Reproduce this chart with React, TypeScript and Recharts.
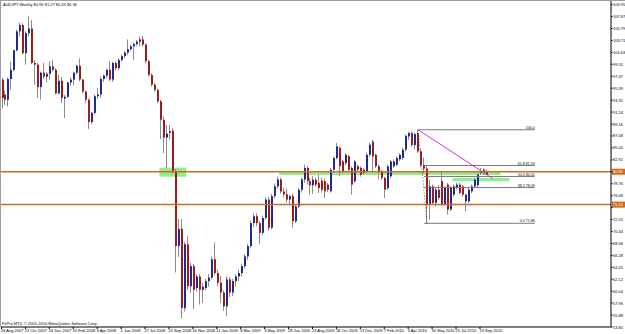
import React from "react";
import { ComposedChart, Bar, XAxis, YAxis, ReferenceLine, ReferenceArea } from "recharts";

// AUDJPY weekly, one entry per week starting 26 Aug 2007
const opens = [
  96.9, 94.3, 93.4, 97.0, 98.6, 102.0, 105.3, 106.4, 101.5, 105.0, 105.8, 99.8, 99.5, 95.6, 98.1, 97.4, 97.9, 99.2, 98.6, 94.5,
  96.7, 93.6, 93.9, 96.4, 96.9, 98.1, 99.3, 96.9, 94.8, 93.4, 89.5, 91.1, 94.0, 94.3, 97.0, 97.6, 98.6, 96.9, 99.8, 98.9,
  100.3, 101.0, 101.6, 102.2, 102.7, 103.1, 103.5, 103.9, 103.0, 100.1, 97.7, 96.0, 95.1, 93.1, 89.9, 86.8, 87.9, 88.0, 81.0, 67.9,
  70.9, 57.1, 68.2, 60.9, 64.4, 60.6, 62.6, 60.3, 60.6, 61.8, 62.4, 65.6, 63.2, 61.5, 59.8, 57.4, 62.1, 59.8, 61.8, 62.6,
  63.2, 64.4, 66.1, 67.9, 71.9, 73.1, 71.9, 70.2, 72.8, 76.0, 71.1, 76.6, 78.3, 79.5, 77.4, 76.9, 76.0, 76.6, 72.2, 74.8,
  77.7, 79.5, 81.5, 79.2, 78.5, 79.47, 78.9, 79.3, 79.2, 78.6, 77.44, 81.2, 83.24, 85.0, 82.65, 82.37, 83.53, 81.5, 79.18, 81.8,
  81.5, 81.2, 80.9, 83.8, 86.13, 83.8, 81.8, 80.9, 79.76, 78.0, 80.05, 81.8, 82.08, 83.0, 83.24, 84.7, 87.0, 87.58, 85.5, 87.6,
  84.4, 82.0, 81.4, 75.12, 78.3, 75.41, 77.73, 79.2, 75.12, 78.6, 74.25, 76.86, 78.02, 78.6, 78.3, 75.7, 75.7, 77.44, 78.3, 78.5,
  80.62, 81.2, 80.96,
];
const highs = [
  97.2, 95.0, 97.3, 100.0, 102.1, 105.6, 106.8, 106.7, 105.3, 108.0, 107.3, 100.3, 99.8, 98.3, 99.8, 98.2, 100.1, 100.3, 98.9, 97.7,
  97.4, 94.2, 96.5, 97.3, 98.3, 99.5, 100.6, 97.0, 95.0, 93.6, 91.3, 94.3, 95.4, 97.4, 97.8, 98.8, 100.1, 100.0, 100.1, 100.6,
  101.3, 101.9, 103.9, 103.0, 103.4, 103.8, 104.4, 104.5, 103.2, 100.3, 98.0, 96.3, 95.3, 93.4, 90.5, 89.0, 89.0, 88.4, 81.3, 72.6,
  72.6, 68.6, 69.6, 65.0, 64.8, 63.0, 63.0, 61.5, 62.2, 63.0, 66.1, 68.5, 63.8, 62.65, 60.2, 62.65, 62.5, 62.2, 63.0, 63.8,
  64.8, 66.5, 68.3, 72.3, 73.6, 73.6, 72.3, 73.2, 76.4, 76.5, 77.0, 78.8, 80.0, 79.8, 78.0, 77.9, 76.8, 77.0, 75.2, 78.0,
  79.8, 82.1, 81.8, 79.76, 80.05, 79.8, 80.34, 79.8, 79.7, 78.9, 81.5, 83.5, 85.84, 85.3, 82.9, 84.1, 83.8, 81.8, 82.9, 82.1,
  81.8, 81.5, 84.1, 85.84, 86.4, 84.0, 82.1, 81.2, 80.0, 82.1, 82.9, 83.0, 83.5, 84.1, 85.0, 87.3, 87.8, 87.9, 87.7, 88.16,
  84.9, 83.3, 81.8, 79.47, 78.6, 78.0, 78.5, 80.9, 78.3, 78.9, 78.3, 78.6, 78.9, 78.9, 78.5, 77.0, 78.0, 78.6, 79.8, 80.6,
  81.5, 81.5, 81.27,
];
const lows = [
  91.9, 92.5, 92.2, 95.1, 98.3, 101.8, 104.4, 101.3, 99.5, 104.4, 99.6, 96.0, 93.7, 93.4, 97.0, 96.4, 96.9, 98.3, 94.3, 94.3,
  92.8, 90.2, 93.7, 95.8, 95.9, 97.8, 96.6, 94.5, 92.8, 88.3, 89.2, 90.8, 93.5, 93.7, 96.5, 97.2, 96.6, 96.5, 98.5, 98.6,
  100.0, 100.6, 101.2, 101.9, 100.3, 102.8, 102.7, 102.7, 99.8, 97.4, 95.7, 94.8, 92.8, 86.5, 84.1, 81.5, 86.5, 80.5, 63.3, 66.0,
  55.3, 56.5, 60.2, 59.8, 56.9, 60.0, 57.7, 58.0, 60.2, 60.8, 62.1, 62.8, 60.9, 58.0, 56.6, 55.7, 59.0, 59.2, 60.9, 61.8,
  62.6, 64.0, 65.5, 67.5, 71.2, 71.3, 68.2, 69.8, 72.5, 70.6, 70.8, 76.2, 77.9, 77.0, 76.4, 75.5, 75.0, 71.1, 71.9, 74.5,
  77.2, 78.9, 78.6, 76.86, 77.0, 78.2, 77.15, 77.2, 76.28, 77.3, 77.2, 80.9, 83.0, 80.05, 80.6, 82.0, 80.9, 76.86, 78.9, 80.9,
  80.0, 80.3, 80.6, 83.5, 80.9, 81.5, 79.5, 79.4, 76.28, 77.7, 79.8, 81.5, 81.8, 82.7, 82.9, 84.4, 86.4, 85.2, 84.7, 84.1,
  81.6, 80.4, 71.86, 72.5, 75.2, 74.8, 76.0, 74.9, 74.9, 73.38, 74.0, 76.5, 77.7, 76.9, 76.5, 73.96, 75.4, 77.1, 78.0, 78.0,
  80.3, 80.4, 80.33,
];
const closes = [
  93.7, 93.4, 97.0, 98.6, 102.0, 105.3, 106.4, 101.5, 105.0, 105.8, 99.8, 99.5, 95.6, 98.1, 97.4, 97.9, 99.2, 98.6, 94.5, 96.7,
  93.7, 93.9, 96.4, 96.9, 98.1, 99.3, 96.9, 94.8, 93.4, 89.5, 91.1, 94.0, 94.3, 97.0, 97.6, 98.6, 96.9, 99.8, 98.9, 100.3,
  101.0, 101.6, 102.2, 102.7, 103.1, 103.5, 103.9, 103.0, 100.1, 97.7, 96.0, 95.1, 93.1, 89.9, 86.8, 87.5, 87.6, 81.0, 67.9, 70.9,
  57.1, 68.2, 60.9, 64.4, 60.3, 62.6, 60.3, 60.8, 61.8, 62.4, 65.6, 63.2, 61.5, 59.8, 57.4, 62.1, 59.8, 61.8, 62.6, 63.2,
  64.4, 66.1, 67.9, 71.9, 73.1, 71.9, 70.2, 72.8, 76.0, 71.1, 76.6, 78.3, 79.5, 77.4, 76.9, 76.0, 76.6, 72.2, 74.8, 77.7,
  79.5, 81.5, 79.2, 78.5, 79.47, 78.6, 78.0, 77.7, 77.44, 77.7, 81.2, 83.24, 85.26, 81.8, 80.9, 83.8, 81.2, 78.6, 82.65, 81.2,
  80.34, 80.63, 83.8, 85.55, 83.53, 81.8, 80.9, 79.76, 77.73, 81.8, 82.65, 82.65, 83.24, 83.8, 84.68, 87.1, 87.58, 85.5, 87.4, 84.4,
  82.0, 81.4, 75.12, 78.3, 75.41, 77.73, 76.28, 75.12, 78.02, 74.25, 78.02, 78.3, 78.6, 77.15, 76.86, 76.86, 77.73, 78.3, 79.47, 80.33,
  80.91, 80.62, 80.36,
];

const dateLabels = [
  "26 Aug 2007", "21 Oct 2007", "16 Dec 2007", "10 Feb 2008", "6 Apr 2008", "1 Jun 2008", "27 Jul 2008",
  "21 Sep 2008", "16 Nov 2008", "11 Jan 2009", "8 Mar 2009", "3 May 2009", "28 Jun 2009", "23 Aug 2009",
  "18 Oct 2009", "13 Dec 2009", "7 Feb 2010", "4 Apr 2010", "30 May 2010", "25 Jul 2010", "19 Sep 2010",
];

const priceLabels = [
  "109.95", "107.87", "105.79", "103.71", "101.63", "99.55", "97.47", "95.39", "93.31", "91.24",
  "89.16", "87.08", "85.00", "82.92", "80.84", "78.76", "76.68", "74.60", "72.52", "70.44",
  "68.36", "66.28", "64.20", "62.12", "60.04", "57.96", "55.88", "53.80",
];

// objects drawn on the chart (price levels / bar indices)
const hLines = [80.85, 75.12];
const fibLevels = [
  { label: "100.0", price: 88.16 },
  { label: "61.8  81.93", price: 81.93 },
  { label: "50.0  80.01", price: 80.01 },
  { label: "38.2  78.09", price: 78.09 },
  { label: "0.0  71.86", price: 71.86 },
];

const SLOTS = 204; // visible bar slots incl. empty right shift
const data = Array.from({ length: SLOTS }, (_, i) =>
  i < closes.length
    ? { i, o: opens[i], h: highs[i], l: lows[i], c: closes[i], range: [lows[i], highs[i]] }
    : { i, range: null }
);

const FONT = "'Liberation Sans', Arial, sans-serif";
const UP = "#1f2b8f";
const DOWN = "#9b1c1c";
const WICK = "#8c8c8c";
const ORANGE = "#d2691e";
const GREEN = "#90ee90";

function Candle(props: any) {
  const { x, y, width, height, payload } = props;
  if (!payload || payload.o == null) return null;
  const { o, h, l, c } = payload;
  const top = Math.min(y, y + height);
  const span = Math.abs(height);
  const py = (v: number) => top + ((h - v) / (h - l || 1)) * span;
  const cx = Math.round(x + width / 2);
  const bTop = py(Math.max(o, c));
  const bBot = py(Math.min(o, c));
  return (
    <g>
      <line x1={cx - 0.5} x2={cx - 0.5} y1={top} y2={top + span} stroke={WICK} strokeWidth={1} />
      <rect x={cx - 1} y={bTop} width={2} height={Math.max(1, bBot - bTop)} fill={c >= o ? UP : DOWN} />
    </g>
  );
}

function PriceTick(props: any) {
  const { x, y, payload } = props;
  const s = priceLabels.find((p) => Math.abs(Number(p) - payload.value) < 1e-6) ?? "";
  // the price tags of the horizontal lines cover the tick labels next to them
  const hidden = hLines.some((p) => Math.abs(p - payload.value) < 0.6);
  return (
    <g>
      <line x1={x} x2={x + 1.5} y1={y} y2={y} stroke="#000" />
      {!hidden && (
        <text x={x + 2} y={y + 1.5} fontSize={4} fontFamily={FONT} fill="#000">{s}</text>
      )}
    </g>
  );
}

function DateTick(props: any) {
  const { x, y, payload } = props;
  const s = dateLabels[payload.value / 8];
  if (!s) return null;
  return (
    <g>
      <line x1={x - 1} x2={x - 1} y1={y} y2={y + 2} stroke="#000" />
      <text x={x - 1.5} y={y + 5} fontSize={4} fontFamily={FONT} fill="#000">{s}</text>
    </g>
  );
}

function FibLabel(props: any) {
  const { viewBox, text } = props;
  if (!viewBox) return null;
  return (
    <text x={viewBox.x + viewBox.width} y={viewBox.y - 1} textAnchor="end" fontSize={3.6} fontFamily={FONT} fill="#000">
      {text}
    </text>
  );
}

function PriceTag(props: any) {
  const { viewBox, text } = props;
  if (!viewBox) return null;
  const x = viewBox.x + viewBox.width;
  return (
    <g>
      <rect x={x + 1} y={viewBox.y - 3} width={13} height={6} fill={ORANGE} />
      <text x={x + 2} y={viewBox.y + 1.5} fontSize={4} fontFamily={FONT} fill="#fff">{text}</text>
    </g>
  );
}

export default function App() {
  return (
    <div style={{ position: "fixed", left: 0, top: 0, width: 625, height: 334, background: "#fff", overflow: "hidden" }}>
      <ComposedChart width={625} height={334} data={data} margin={{ top: 1, right: 0, bottom: 0, left: 1 }} barCategoryGap={0}>
        <XAxis
          dataKey="i"
          interval={7}
          height={7}
          tickSize={0}
          tickMargin={0}
          stroke="#000"
          tick={<DateTick />}
        />
        <YAxis
          orientation="right"
          width={14}
          domain={[53.8, 110.59]}
          allowDataOverflow
          ticks={priceLabels.map(Number)}
          interval={0}
          tickSize={0}
          tickMargin={0}
          stroke="#000"
          tick={<PriceTick />}
        />
        <ReferenceArea x1={53} x2={61} y1={79.98} y2={81.55} fill={GREEN} fillOpacity={1} stroke="none" />
        <ReferenceArea x1={93} x2={166} y1={80.3} y2={80.75} fill={GREEN} fillOpacity={1} stroke="none" />
        <ReferenceArea x1={151} x2={169} y1={79.17} y2={79.76} fill={GREEN} fillOpacity={1} stroke="none" />
        {hLines.map((p) => (
          <ReferenceLine key={p} y={p} stroke={ORANGE} strokeWidth={1.5} label={<PriceTag text={p.toFixed(2)} />} />
        ))}
        {fibLevels.map((f, k) => (
          <ReferenceLine
            key={f.label}
            segment={[{ x: k === 0 ? 139 : 141, y: f.price }, { x: 178, y: f.price }]}
            stroke="#7a7a7a"
            strokeWidth={1}
            label={<FibLabel text={f.label} />}
          />
        ))}
        <ReferenceLine segment={[{ x: 139, y: 88.16 }, { x: 142, y: 71.86 }]} stroke="#555" strokeDasharray="1 2" />
        <Bar dataKey="range" shape={<Candle />} isAnimationActive={false} />
        <ReferenceLine segment={[{ x: 139, y: 88.16 }, { x: 164, y: 79.64 }]} stroke="#cc33cc" strokeWidth={1} />
      </ComposedChart>
      <div style={{ position: "absolute", left: 0, top: 0, width: 625, height: 1, background: "#a0a0a0" }} />
      <div style={{ position: "absolute", left: 0, top: 0, width: 1, height: 327, background: "#a0a0a0" }} />
      <div style={{ position: "absolute", left: 3, top: 2, fontSize: 4, fontFamily: FONT, whiteSpace: "nowrap", lineHeight: "5px" }}>
        AUDJPY,Weekly  80.96 81.27 80.33 80.36
      </div>
      <div style={{ position: "absolute", left: 2, top: 321, fontSize: 4, fontFamily: FONT, whiteSpace: "nowrap", lineHeight: "5px" }}>
        FxPro MT4, © 2001-2010 MetaQuotes Software Corp.
      </div>
    </div>
  );
}
